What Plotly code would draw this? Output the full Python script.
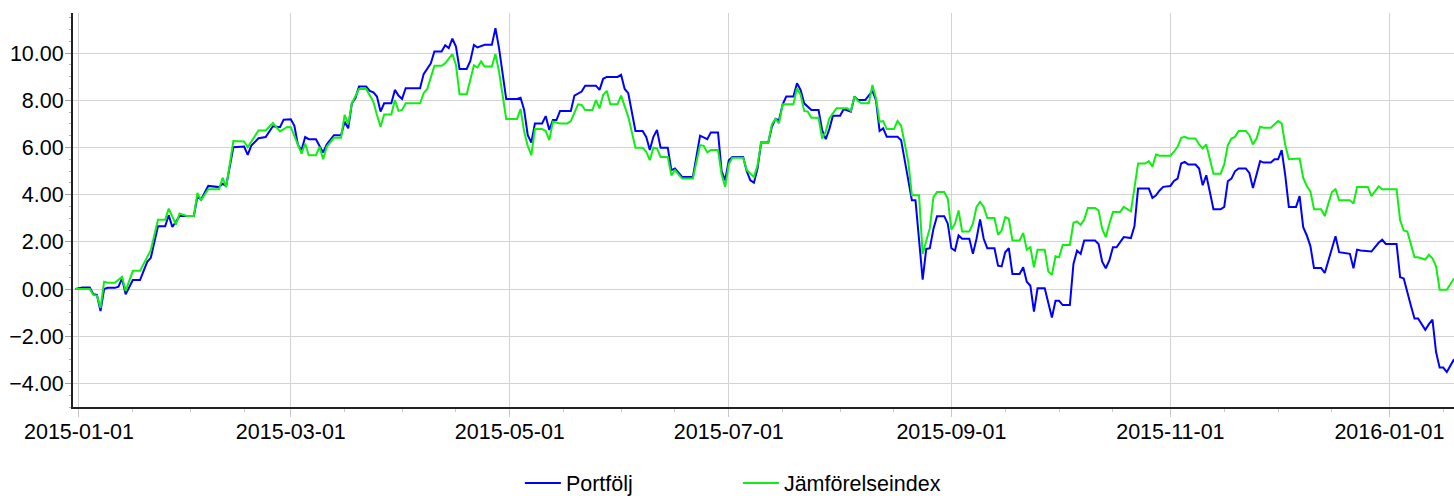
import pandas as pd
import plotly.graph_objects as go

# Days counted from 2015-01-01 and values
portfolio_days = [
    -1, 1, 3, 4, 5, 6, 7, 8, 10, 11, 12, 13, 15, 17, 19, 20, 22, 24, 25, 26, 27, 28, 32, 33, 34,
    36, 39, 40, 41, 43, 46, 47, 48, 50, 52, 54, 56, 57, 59, 60, 61, 62, 63, 64, 66, 67, 68, 69,
    71, 73, 74, 75, 76, 77, 78, 80, 81, 82, 83, 84, 85, 87, 88, 89, 90, 91, 95, 96, 97, 98, 99,
    101, 102, 103, 104, 105, 106, 108, 109, 110, 111, 113, 115, 116, 117, 119, 122, 123, 124,
    125, 126, 127, 129, 130, 131, 132, 133, 134, 137, 138, 140, 141, 144, 145, 146, 147, 150,
    151, 152, 153, 155, 157, 158, 159, 160, 161, 162, 164, 165, 166, 168, 171, 173, 175, 176,
    178, 179, 180, 181, 182, 185, 186, 187, 188, 189, 190, 192, 193, 194, 195, 196, 197, 199,
    200, 201, 202, 204, 206, 207, 208, 209, 210, 212, 213, 215, 216, 217, 219, 221, 222, 223,
    224, 225, 228, 229, 230, 232, 233, 234, 235, 236, 237, 238, 239, 241, 242, 243, 244, 245,
    246, 248, 249, 250, 251, 252, 253, 255, 256, 257, 258, 259, 260, 262, 263, 264, 265, 266,
    267, 269, 270, 271, 272, 273, 274, 276, 277, 278, 279, 280, 283, 284, 285, 286, 287, 288,
    289, 290, 291, 293, 294, 295, 298, 299, 300, 301, 302, 304, 305, 306, 307, 308, 309, 311,
    312, 313, 314, 315, 316, 318, 319, 320, 321, 322, 323, 325, 326, 327, 328, 329, 330, 332,
    333, 334, 335, 336, 337, 339, 340, 341, 342, 343, 344, 346, 347, 348, 349, 350, 351, 353,
    354, 355, 356, 357, 360, 362, 363, 364, 367, 368, 369, 371, 372, 373, 375, 376, 377, 378,
    379, 380, 381, 383,
]
portfolio_values = [
    0.00, 0.07, 0.07, -0.22, -0.25, -0.93, 0.00, 0.05, 0.05, 0.10, 0.45, -0.22, 0.38, 0.38, 1.15,
    1.32, 2.66, 2.66, 3.13, 2.63, 2.85, 3.10, 3.10, 3.94, 3.79,
    4.37, 4.32, 4.46, 4.37, 6.01, 6.04, 5.69, 6.08, 6.39, 6.44, 6.90, 6.86, 7.18, 7.20, 6.92,
    6.10, 5.89, 6.44, 6.35, 6.35, 6.10, 5.79, 6.13,
    6.52, 6.52, 7.09, 6.81, 7.87, 8.09, 8.58, 8.58, 8.40, 8.34, 8.16, 7.52, 7.87, 7.87, 8.44,
    8.20, 8.06, 8.51, 8.51, 9.11, 9.36, 9.57, 10.07,
    10.07, 10.33, 10.21, 10.61, 10.28, 9.33, 9.33, 9.67, 10.35, 10.24, 10.35, 10.35, 11.06,
    10.21, 8.06, 8.06, 8.11, 7.59,
    6.52, 6.21, 7.02, 7.02, 7.33, 6.74, 7.16, 7.16, 7.55, 7.55, 8.20, 8.37, 8.62, 8.62, 8.44,
    8.91, 8.99, 8.99,
    9.08, 8.48, 8.30, 6.70, 6.70, 6.45, 5.89, 6.45, 6.74, 5.99, 5.99, 5.04, 5.11, 4.75, 4.75,
    6.50, 6.35, 6.64,
    6.64, 5.00, 4.61, 5.46, 5.60, 5.60, 4.99, 4.61, 4.51, 5.11, 6.21, 6.21, 6.88, 7.21, 7.16,
    7.83, 8.16, 8.16,
    8.72, 8.44, 7.87, 7.59, 7.59, 6.74, 6.35, 6.78, 7.35, 7.35, 7.63, 7.52, 8.16, 8.01, 8.01,
    8.40, 8.01, 6.70,
    6.81, 6.45, 6.45, 6.31, 5.46, 3.76, 3.76, 2.06, 0.40, 1.70, 1.73, 2.55, 3.09, 3.09, 2.77,
    1.73, 1.63, 2.27,
    2.13, 2.13, 1.49, 2.13, 2.95, 2.13, 1.73, 1.73, 0.99, 0.96, 1.56, 1.73, 0.64, 0.64, 0.92,
    0.31, 0.14, -0.96,
    0.03, 0.03, -0.57, -1.21, -0.50, -0.50, -0.68, -0.68, 1.06, 1.63, 1.49, 2.06, 2.06, 1.91,
    1.16, 0.88, 1.21, 1.77,
    1.77, 1.99, 2.20, 2.16, 2.67, 4.26, 4.26, 3.86, 3.97, 4.18, 4.33, 4.37, 4.58, 4.68, 5.32,
    5.39, 5.28, 5.28,
    5.11, 4.40, 4.82, 4.11, 3.38, 3.38, 3.48, 4.57, 4.68, 4.99, 5.11, 5.11, 4.92, 4.28, 4.89,
    5.42, 5.36, 5.36,
    5.50, 5.50, 5.89, 4.82, 3.48, 3.48, 3.94, 2.62, 2.27, 1.82, 0.89, 0.89, 0.68, 1.21, 1.63,
    2.24, 1.56, 1.53,
    1.49, 0.88, 1.67, 1.63, 1.59, 1.96, 2.09, 1.91, 1.91, 0.50, 0.45, -0.71, -1.25, -1.25,
    -1.73, -1.49, -1.30, -2.67,
    -3.33, -3.33, -3.52, -2.98,
]

index_days = [
    -1, 3, 4, 5, 6, 7, 8, 10, 12, 13, 15, 17, 20, 22, 24, 25, 27, 28, 30, 32, 33, 34, 36, 39,
    40, 41, 43, 46, 47, 50, 52, 54, 56, 58, 59, 61, 62, 63, 64, 66, 67, 68, 69, 71, 73, 74, 75,
    76, 78, 80, 82, 83, 84, 85, 87, 88, 89, 90, 91, 95, 96, 97, 99, 101, 102, 104, 105, 106,
    108, 109, 110, 111, 112, 113, 115, 116, 117, 119, 122, 123, 124, 125, 126, 127, 129, 130,
    131, 132, 134, 136, 137, 139, 140, 141, 143, 144, 145, 146, 147, 148, 150, 151, 152, 153,
    155, 157, 158, 159, 160, 161, 162, 164, 165, 166, 168, 171, 173, 174, 175, 176, 178, 179,
    180, 181, 182, 185, 186, 188, 189, 190, 192, 193, 194, 195, 196, 199, 200, 201, 202, 203,
    204, 206, 207, 208, 209, 211, 214, 215, 216, 217, 218, 220, 221, 222, 223, 224, 225, 227,
    228, 229, 230, 231, 232, 234, 235, 236, 237, 238, 239, 241, 242, 243, 244, 245, 246, 248,
    249, 250, 251, 252, 253, 255, 256, 257, 258, 259, 260, 262, 263, 264, 265, 266, 267, 269,
    270, 271, 272, 273, 274, 276, 277, 278, 279, 280, 281, 283, 284, 285, 286, 287, 288, 290,
    291, 293, 294, 295, 297, 298, 299, 300, 301, 304, 305, 306, 307, 308, 309, 311, 312, 313,
    314, 315, 316, 318, 319, 320, 321, 322, 323, 325, 326, 327, 328, 329, 330, 332, 333, 334,
    335, 336, 337, 340, 341, 342, 343, 344, 346, 347, 348, 349, 350, 351, 354, 355, 356, 359,
    360, 362, 363, 367, 368, 369, 370, 371, 372, 373, 375, 376, 377, 378, 379, 381, 383,
]
index_values = [
    0.00, 0.00, -0.25, -0.28, -0.80, 0.31, 0.27, 0.27, 0.52, -0.08, 0.77, 0.77, 1.65, 2.94, 2.94,
    3.41, 2.73, 3.20, 3.10, 3.10, 4.07, 3.76, 4.23, 4.23,
    4.72, 4.32, 6.27, 6.25, 6.01, 6.72, 6.72, 7.04, 6.68, 6.87, 6.86, 6.13, 5.74, 6.17, 5.67,
    5.67, 6.03, 5.50, 6.03, 6.41, 6.41, 7.38, 6.98,
    7.87, 8.48, 8.48, 7.94, 7.38, 6.88, 7.40, 7.40, 8.01, 7.55, 7.59, 7.87, 7.87, 8.30, 8.48,
    9.46, 9.46, 9.57, 9.96, 9.50, 8.26,
    8.26, 8.87, 9.48, 9.39, 9.65, 9.43, 9.43, 9.96, 9.22, 7.21, 7.21, 7.63, 6.67, 6.07, 5.67,
    6.78, 6.78, 6.70,
    6.31, 7.09, 7.02, 7.02, 7.12, 7.83, 7.80, 7.59, 7.59, 8.01, 7.66, 8.23, 8.40, 7.83, 7.83,
    8.20, 7.77, 7.30,
    5.99, 5.99, 5.82, 5.46, 5.99, 5.96, 5.60, 5.60, 4.82, 5.04, 4.68, 4.68, 6.10, 6.07, 5.79,
    5.89, 5.89, 4.85,
    4.33, 5.30, 5.56, 5.56, 5.04, 4.75, 5.25, 6.21, 6.21, 6.98, 7.21, 7.02, 7.83, 7.83, 8.51,
    8.23, 7.55, 7.52,
    7.26, 7.26, 6.38, 6.67, 7.23, 7.66, 7.66, 7.55, 8.16, 7.97, 7.87, 7.87, 8.65, 8.09, 7.09,
    7.12, 6.78, 6.78,
    7.12, 6.92, 6.17, 5.39, 3.97, 3.97, 1.49, 1.99, 2.58, 3.90, 4.11, 4.11, 3.83, 2.52, 2.77,
    3.33, 2.44, 2.44,
    2.77, 3.48, 3.69, 3.48, 3.01, 3.01, 2.30, 2.48, 3.05, 2.98, 2.06, 2.06, 2.38, 1.67, 1.77,
    0.92, 1.67, 1.67,
    0.74, 0.60, 1.39, 1.35, 1.87, 1.87, 2.81, 2.87, 2.72, 2.95, 3.43, 3.43, 3.33, 2.55, 2.20,
    2.77, 3.26, 3.26,
    3.48, 3.29, 4.26, 5.32, 5.32, 5.42, 5.18, 5.70, 5.65, 5.65, 5.82, 6.03, 6.41, 6.45, 6.38,
    6.38, 6.13, 5.96,
    6.13, 5.53, 4.89, 4.89, 5.28, 6.10, 6.38, 6.45, 6.70, 6.70, 6.52, 6.13, 6.38, 6.88, 6.84,
    6.84, 6.98, 7.12,
    7.02, 6.10, 5.50, 5.53, 4.71, 4.37, 4.14, 3.38, 3.38, 3.09, 3.62, 4.11, 4.23, 3.76, 3.76,
    3.62, 4.33, 4.33,
    3.94, 4.35, 4.23, 4.23, 2.91, 2.48, 2.44, 1.84, 1.35, 1.35, 1.25, 1.45, 1.30, 0.96, -0.03,
    -0.03, 0.45,
]

series_names = ["Portfölj", "Jämförelseindex"]
series_colors = ["#0000ff", "#11ee11"]
x_tick_labels = ["2015-01-01", "2015-03-01", "2015-05-01", "2015-07-01",
                 "2015-09-01", "2015-11-01", "2016-01-01"]

start = pd.Timestamp("2015-01-01")
portfolio_dates = start + pd.to_timedelta(portfolio_days, unit="D")
index_dates = start + pd.to_timedelta(index_days, unit="D")

FONT = "Liberation Sans, Arial, sans-serif"
FS = 21.5

fig = go.Figure()
fig.add_trace(go.Scatter(x=portfolio_dates, y=portfolio_values, mode="lines",
                         name=series_names[0],
                         line=dict(color=series_colors[0], width=2)))
fig.add_trace(go.Scatter(x=index_dates, y=index_values, mode="lines",
                         name=series_names[1],
                         line=dict(color=series_colors[1], width=2)))

minor_x = []
for m in pd.date_range("2014-12-01", "2016-02-01", freq="MS"):
    minor_x.append(m)
    minor_x.append(m + pd.Timedelta(days=15))

fig.update_layout(
    width=1454, height=496,
    margin=dict(l=73, r=0, t=13, b=89, autoexpand=False),
    paper_bgcolor="white", plot_bgcolor="white",
    font=dict(family=FONT, size=FS, color="#000000"),
    showlegend=True,
    legend=dict(orientation="h", x=0.3236, xanchor="left", y=-0.193, yanchor="middle",
                entrywidth=167, entrywidthmode="pixels", itemwidth=36,
                font=dict(family=FONT, size=FS, color="#000000"),
                bgcolor="rgba(0,0,0,0)"),
    xaxis=dict(
        type="date", automargin=False,
        range=["2014-12-30 08:00", "2016-01-19 00:00"],
        tickmode="array", tickvals=x_tick_labels, ticktext=x_tick_labels,
        showgrid=True, gridcolor="#d3d3d3", gridwidth=1,
        ticks="outside", ticklen=8, tickcolor="#c8c8c8", tickwidth=1,
        ticklabelstandoff=-4,
        showline=True, linecolor="#222222", linewidth=2,
        zeroline=False,
        minor=dict(tickmode="array", tickvals=minor_x, ticks="outside",
                   ticklen=3, tickcolor="#c8c8c8", showgrid=False),
        tickfont=dict(family=FONT, size=FS, color="#000000"),
    ),
    yaxis=dict(
        automargin=False,
        range=[-5.0, 11.7],
        tick0=0, dtick=2, tickformat=".2f",
        showgrid=True, gridcolor="#d3d3d3", gridwidth=1,
        ticks="outside", ticklen=6, tickcolor="#a0a0a0", tickwidth=1,
        ticklabelstandoff=-3,
        showline=True, linecolor="#222222", linewidth=2,
        zeroline=False,
        minor=dict(dtick=0.5, ticks="outside", ticklen=2, tickcolor="#b0b0b0",
                   showgrid=False),
        tickfont=dict(family=FONT, size=FS, color="#000000"),
    ),
)

fig.write_html(
    "out.html",
    config={"displayModeBar": False},
    post_script="document.body.style.margin='0px';document.body.style.overflow='hidden';",
)
